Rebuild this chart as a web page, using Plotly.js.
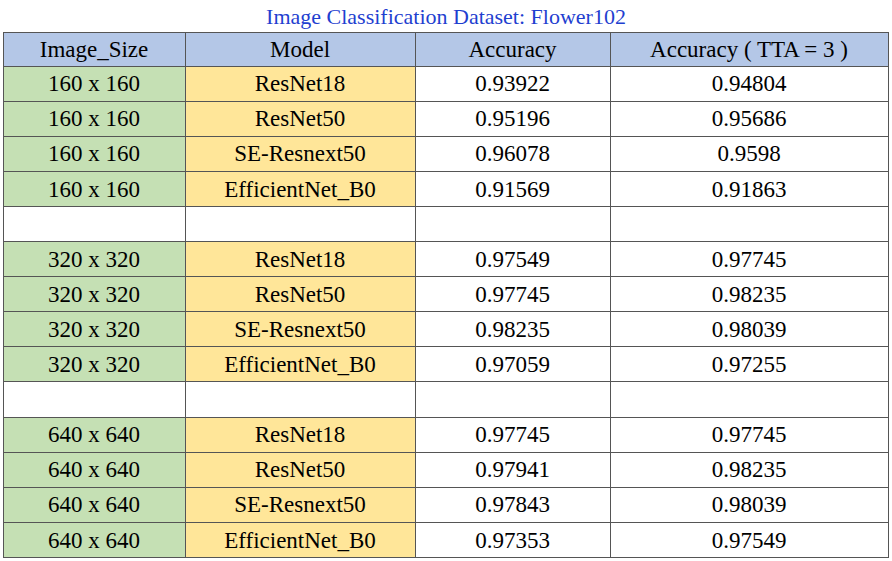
<!DOCTYPE html>
<html><head><meta charset="utf-8">
<script src="https://cdn.plot.ly/plotly-3.0.1.min.js"></script>
<style>body{margin:0;background:#fff}</style></head>
<body><div id="chart" style="width:892px;height:561px"></div>
<script>
const headers = ["Image_Size","Model","Accuracy","Accuracy ( TTA = 3 )"];
const imageSizes = ["160 x 160","160 x 160","160 x 160","160 x 160","",
  "320 x 320","320 x 320","320 x 320","320 x 320","",
  "640 x 640","640 x 640","640 x 640","640 x 640"];
const models = ["ResNet18","ResNet50","SE-Resnext50","EfficientNet_B0","",
  "ResNet18","ResNet50","SE-Resnext50","EfficientNet_B0","",
  "ResNet18","ResNet50","SE-Resnext50","EfficientNet_B0"];
const accuracy = ["0.93922","0.95196","0.96078","0.91569","",
  "0.97549","0.97745","0.98235","0.97059","",
  "0.97745","0.97941","0.97843","0.97353"];
const accuracyTTA = ["0.94804","0.95686","0.9598","0.91863","",
  "0.97745","0.98235","0.98039","0.97255","",
  "0.97745","0.98235","0.98039","0.97549"];

const green = imageSizes.map(s => s ? "#c5e0b4" : "#ffffff");
const yellow = models.map(s => s ? "#ffe699" : "#ffffff");
const white = accuracy.map(() => "#ffffff");
const font = {family:"Liberation Serif, Times New Roman, serif", size:23, color:"#000"};

Plotly.newPlot("chart", [{
  type:"table",
  columnwidth:[182,230,195,278],
  header:{values:headers, fill:{color:"#b4c7e7"}, line:{color:"#555",width:1},
    align:"center", font:font, height:34},
  cells:{values:[imageSizes,models,accuracy,accuracyTTA],
    fill:{color:[green,yellow,white,white]}, line:{color:"#555",width:1},
    align:"center", font:font, height:35.1}
}], {
  width:892, height:561,
  margin:{l:3,r:4,t:32,b:0},
  title:{text:"Image Classification Dataset: Flower102", x:0.5, y:0.985, yanchor:"top",
    font:{family:"Liberation Serif, Times New Roman, serif", size:22, color:"#1f3fd0"}},
  paper_bgcolor:"#fff"
}, {displayModeBar:false});
</script></body></html>
